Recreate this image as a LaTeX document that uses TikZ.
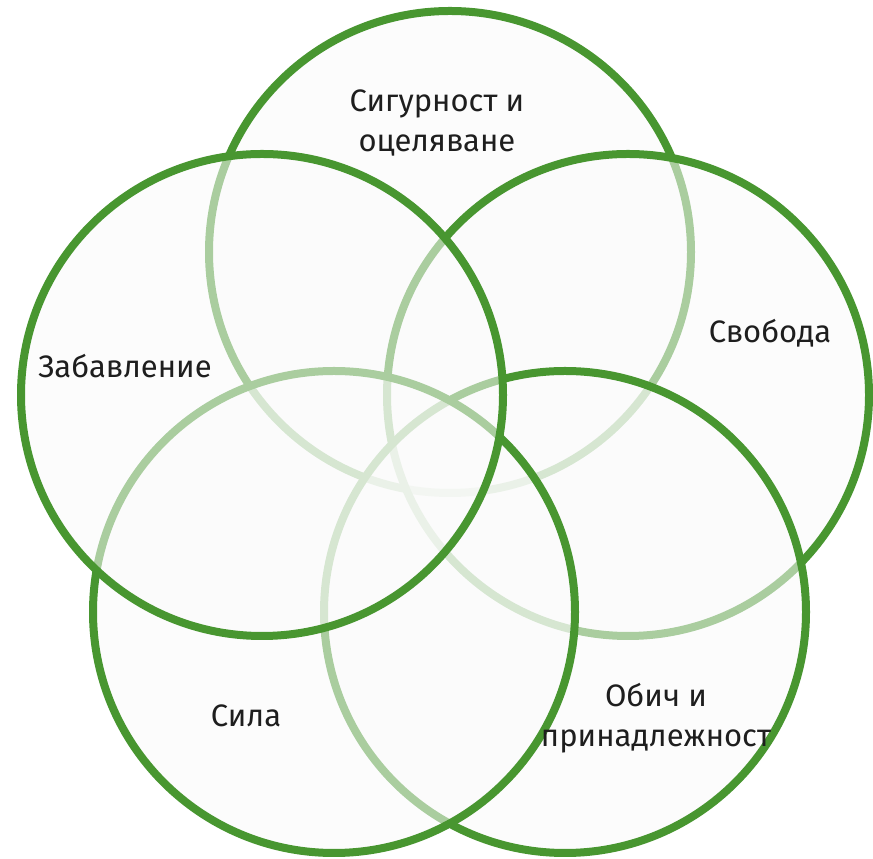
\documentclass[tikz,border=0pt]{standalone}
\usepackage{fontspec}
\setmainfont{Fira Sans}
\definecolor{ringgreen}{RGB}{72,150,48}
\definecolor{labelgray}{RGB}{30,30,30}
\definecolor{veil}{RGB}{251,251,251}
\begin{document}
\begin{tikzpicture}[x=1pt,y=1pt,
  ring/.style={circle, draw=ringgreen, line width=8pt, minimum size=482pt, inner sep=0pt,
    fill=veil, fill opacity=0.55, draw opacity=1},
  lbl/.style={text=labelgray, font=\fontsize{31}{40}\selectfont, align=center, inner sep=0pt}]
\useasboundingbox (0,0) rectangle (873,859);
\fill[white] (0,0) rectangle (873,859);
\node[ring] (top) at (450,607) {};
\node[ring] (right) at (628,464) {};
\node[ring] (bright) at (565,247) {};
\node[ring] (bleft) at (334,247) {};
\node[ring] (left) at (262,464) {};
\node[lbl] (ltop) at (437,736) {Сигурност и\\оцеляване};
\node[lbl] (lleft) at (125,493) {Забавление};
\node[lbl] (lright) at (770,526) {Свобода};
\node[lbl] (lbleft) at (246,143) {Сила};
\node[lbl] (lbright) at (656,141) {Обич и\\принадлежност};
\end{tikzpicture}
\end{document}
